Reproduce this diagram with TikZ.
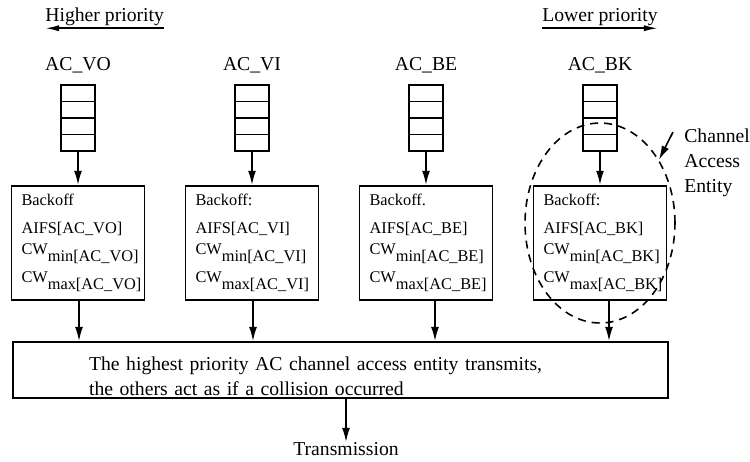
\documentclass[tikz,border=0pt]{standalone}
\usepackage{fontspec}
\setmainfont{Liberation Serif}
\usepackage{tikz}
\usetikzlibrary{
  arrows.meta,
  positioning,
  shapes.geometric,
  calc
}
\newcommand{\cwline}[2]{\raisebox{0.45em}{CW}#1[AC\_#2]}
\tikzset{
  aclabel/.style={
    anchor=base, inner sep=0pt, font=\fontsize{11.2}{13}\selectfont
  },
  queue/.style={
    draw, line width=1pt, minimum width=0.68cm, minimum height=1.32cm,
    inner sep=0pt,
    path picture={
      \foreach \k in {1,2,3}
      \draw[line width=1pt]
      ($(path picture bounding box.north west)!\k/4!(path picture bounding box.south west)$)
      -- ($(path picture bounding box.north east)!\k/4!(path picture bounding box.south east)$);
    }
  },
  backoff/.style={
    draw, line width=1.1pt, minimum width=2.66cm, minimum height=2.28cm,
    text width=2.26cm, inner xsep=0.2cm, align=left,
    font=\fontsize{9.3}{16}\selectfont
  },
  mainbox/.style={
    draw, line width=1.1pt, minimum width=13.1cm, minimum height=1.12cm,
    text width=10.06cm, inner xsep=1.52cm, align=left,
    font=\fontsize{11.2}{14.2}\selectfont
  },
  entity/.style={
    ellipse, draw, dash pattern=on 0.16cm off 0.12cm, line width=0.9pt,
    minimum width=3cm, minimum height=4cm, inner sep=0pt
  },
  plain/.style={inner sep=0pt, font=\fontsize{11.2}{14.2}\selectfont},
  arrow/.style={-{Latex[length=8pt,width=4.5pt]}, line width=0.9pt},
  prio/.style={-{Latex[length=8pt,width=3.5pt]}, line width=1pt},
}

\begin{document}
\begin{tikzpicture}[x=0.02cm, y=-0.02cm, node distance=0.66cm]

  \useasboundingbox (0,0) rectangle (750,461);

  %% ── Priority direction ──
  \node[plain, anchor=base west, inner ysep=1.5pt] (hi) at (45,21) {Higher priority};
  \node[plain, anchor=base west, inner ysep=1.5pt] (lo) at (542,21) {Lower priority};
  \draw[prio] (hi.south east) -- (hi.south west);
  \draw[prio] (lo.south west) -- (lo.south east);

  %% ── Access categories and queues ──
  \foreach \ac/\x in {VO/78, VI/252, BE/426, BK/600} {
    \node[aclabel] (l\ac) at (\x,70) {AC\_\ac};
    \node[queue] (q\ac) at (\x,118) {};
  }

  %% ── Backoff entities ──
  \node[backoff, below=of qVO] (bVO)
  {Backoff\\AIFS[AC\_VO]\\\cwline{min}{VO}\\\cwline{max}{VO}};
  \node[backoff, below=of qVI] (bVI)
  {Backoff:\\AIFS[AC\_VI]\\\cwline{min}{VI}\\\cwline{max}{VI}};
  \node[backoff, below=of qBE] (bBE)
  {Backoff.\\AIFS[AC\_BE]\\\cwline{min}{BE}\\\cwline{max}{BE}};
  \node[backoff, below=of qBK] (bBK)
  {Backoff:\\AIFS[AC\_BK]\\\cwline{min}{BK}\\\cwline{max}{BK}};

  %% ── Arbitration ──
  \node[mainbox, text depth=0.75em] (acc) at (340.5,370)
  {The highest priority AC channel access entity transmits,\\
    the others act as if a collision occurred};
  \node[plain, anchor=north] (tx) at (346,442) {Transmission};

  %% ── Arrows ──
  \foreach \ac in {VO,VI,BE,BK}
  \draw[arrow] (q\ac) -- (b\ac);
  \foreach \ac/\dx in {VO/1, VI/1, BE/9, BK/9}
  \draw[arrow] ([xshift=\dx*0.02cm]b\ac.south)
  -- ([xshift=\dx*0.02cm]b\ac.south |- acc.north);
  \draw[arrow] (acc.south -| tx.north) -- (tx.north);

  %% ── Channel access entity ──
  \node[entity] (ent) at (600,223) {};
  \node[plain, anchor=north west, align=left] (cae) at (684,128.5)
  {Channel\\Access\\Entity};
  \draw[arrow] ([shift={(-11,3.5)}]cae.north west) -- (ent.47);

\end{tikzpicture}
\end{document}
